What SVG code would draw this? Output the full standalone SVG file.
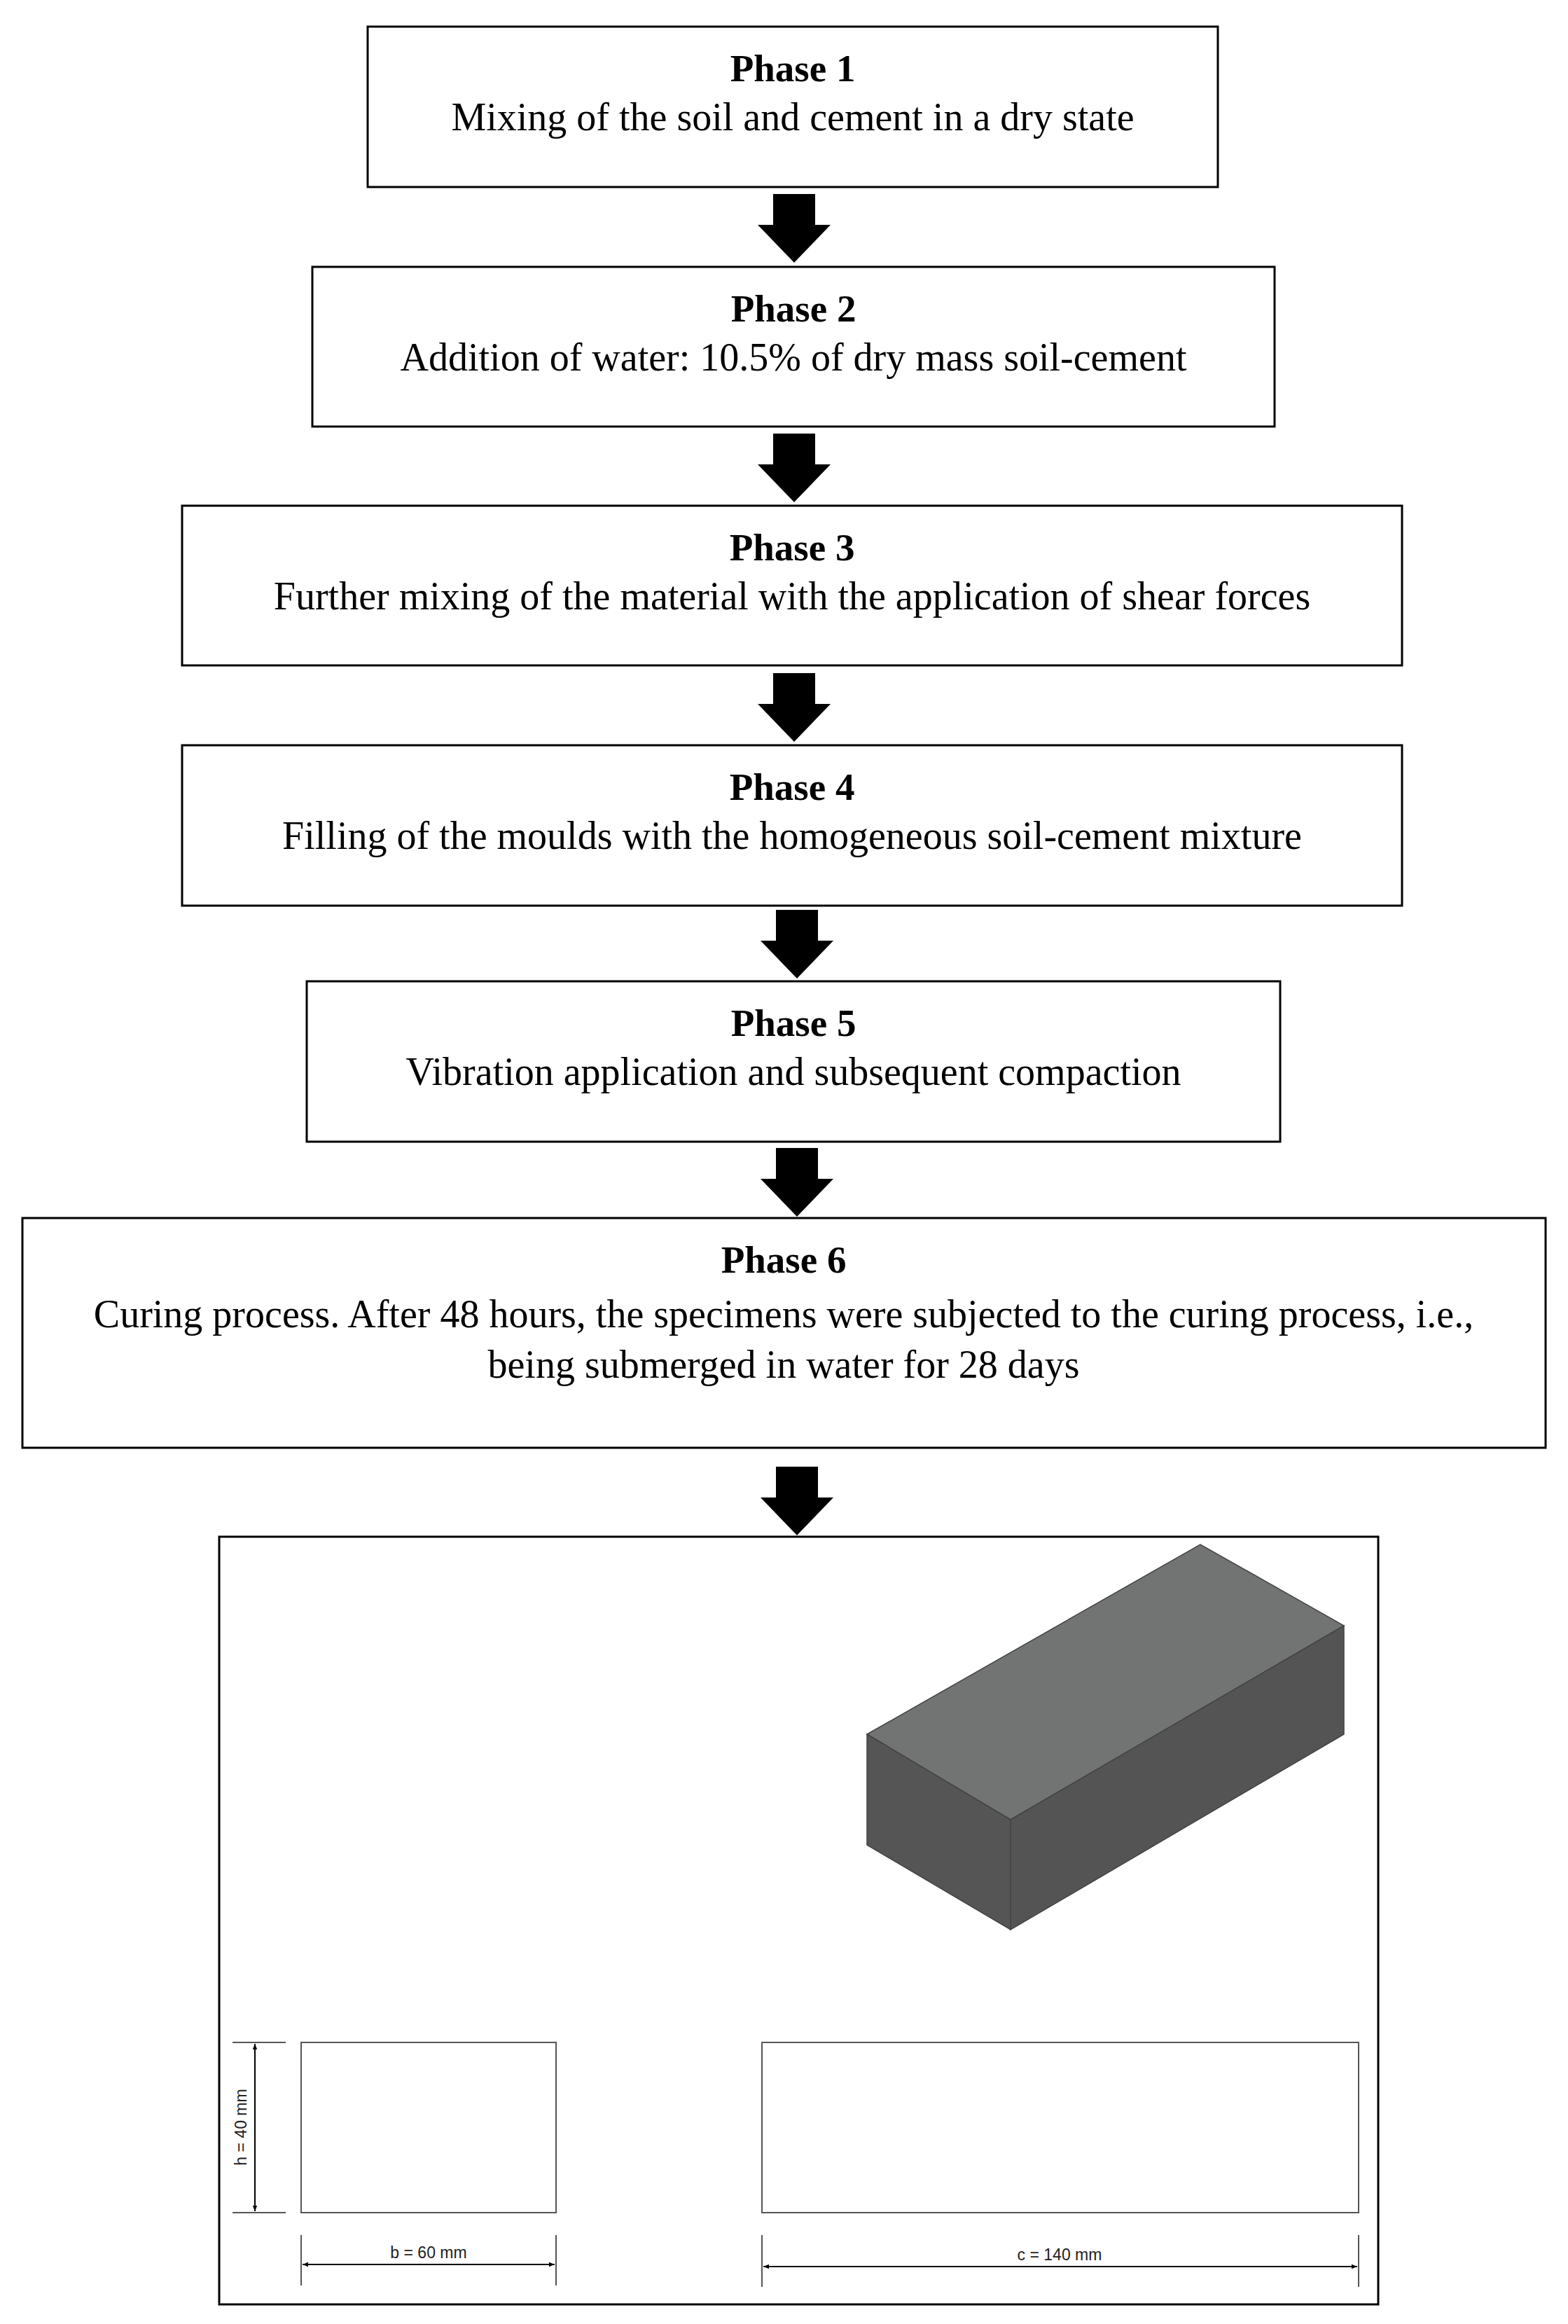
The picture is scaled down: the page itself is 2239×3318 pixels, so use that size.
<svg xmlns="http://www.w3.org/2000/svg" width="2239" height="3318" viewBox="0 0 2239 3318">
<style>
.box{fill:#fff;stroke:#000;stroke-width:3}
.t{font-family:"Liberation Serif",serif;font-size:56px;text-anchor:middle;fill:#000}
.b{font-weight:bold;font-size:55px}
.thin{fill:none;stroke:#555;stroke-width:2}
.dim{font-family:"Liberation Sans",Arial,sans-serif;font-size:23px;text-anchor:middle;fill:#222}
</style>
<defs>
<marker id="ah" viewBox="0 0 10 10" refX="10" refY="5" markerWidth="14" markerHeight="8" orient="auto-start-reverse" markerUnits="userSpaceOnUse"><path d="M0,1 L10,5 L0,9 z" fill="#000"/></marker>
<path id="arrow" d="M-30,0 H30 V44 H52 L0,98 L-52,44 H-30 Z" fill="#000"/>
</defs>
<rect width="2239" height="3318" fill="#fff"/>
<g id="connectors">
<use href="#arrow" x="1134" y="277"/>
<use href="#arrow" x="1134" y="619"/>
<use href="#arrow" x="1134" y="961"/>
<use href="#arrow" x="1138" y="1299"/>
<use href="#arrow" x="1138" y="1639"/>
<use href="#arrow" x="1138" y="2094"/>
</g>
<g id="phase1"><rect class="box" x="525" y="38" width="1214" height="229"/>
<text class="t b" x="1132" y="116">Phase 1</text><text class="t" x="1132" y="186">Mixing of the soil and cement in a dry state</text></g>
<g id="phase2"><rect class="box" x="446" y="381" width="1374" height="228"/>
<text class="t b" x="1133" y="459">Phase 2</text><text class="t" x="1133" y="529">Addition of water: 10.5% of dry mass soil-cement</text></g>
<g id="phase3"><rect class="box" x="260" y="722" width="1742" height="228"/>
<text class="t b" x="1131" y="800">Phase 3</text><text class="t" x="1131" y="870">Further mixing of the material with the application of shear forces</text></g>
<g id="phase4"><rect class="box" x="260" y="1064" width="1742" height="229"/>
<text class="t b" x="1131" y="1142">Phase 4</text><text class="t" x="1131" y="1212">Filling of the moulds with the homogeneous soil-cement mixture</text></g>
<g id="phase5"><rect class="box" x="438" y="1401" width="1390" height="229"/>
<text class="t b" x="1133" y="1479">Phase 5</text><text class="t" x="1133" y="1549">Vibration application and subsequent compaction</text></g>
<g id="phase6"><rect class="box" x="32" y="1739" width="2175" height="328"/>
<text class="t b" x="1119" y="1817">Phase 6</text>
<text class="t" x="1119" y="1895">Curing process. After 48 hours, the specimens were subjected to the curing process, i.e.,</text>
<text class="t" x="1119" y="1967">being submerged in water for 28 days</text></g>
<g id="specimen">
<rect class="box" x="313" y="2194" width="1655" height="1096"/>
<polygon points="1238,2476 1714,2205 1919,2321 1443,2598" fill="#727473" stroke="#444" stroke-width="1.5"/>
<polygon points="1238,2476 1443,2598 1443,2755 1238,2634" fill="#555" stroke="#444" stroke-width="1.5"/>
<polygon points="1443,2598 1919,2321 1919,2476 1443,2755" fill="#545454" stroke="#444" stroke-width="1.5"/>
<rect class="thin" x="430" y="2916" width="364" height="243"/>
<rect class="thin" x="1088" y="2916" width="852" height="243"/>
<line class="thin" x1="332" y1="2916" x2="408" y2="2916"/>
<line class="thin" x1="332" y1="3159" x2="408" y2="3159"/>
<line stroke="#000" stroke-width="2" x1="364" y1="2918" x2="364" y2="3157" marker-start="url(#ah)" marker-end="url(#ah)"/>
<text class="dim" transform="translate(352,3037) rotate(-90)">h = 40 mm</text>
<line class="thin" x1="430" y1="3191" x2="430" y2="3263"/>
<line class="thin" x1="794" y1="3191" x2="794" y2="3263"/>
<line stroke="#000" stroke-width="2" x1="432" y1="3233" x2="792" y2="3233" marker-start="url(#ah)" marker-end="url(#ah)"/>
<text class="dim" x="612" y="3224">b = 60 mm</text>
<line class="thin" x1="1088" y1="3191" x2="1088" y2="3265"/>
<line class="thin" x1="1940" y1="3191" x2="1940" y2="3265"/>
<line stroke="#000" stroke-width="2" x1="1090" y1="3236" x2="1938" y2="3236" marker-start="url(#ah)" marker-end="url(#ah)"/>
<text class="dim" x="1513" y="3227">c = 140 mm</text>
</g>
</svg>
